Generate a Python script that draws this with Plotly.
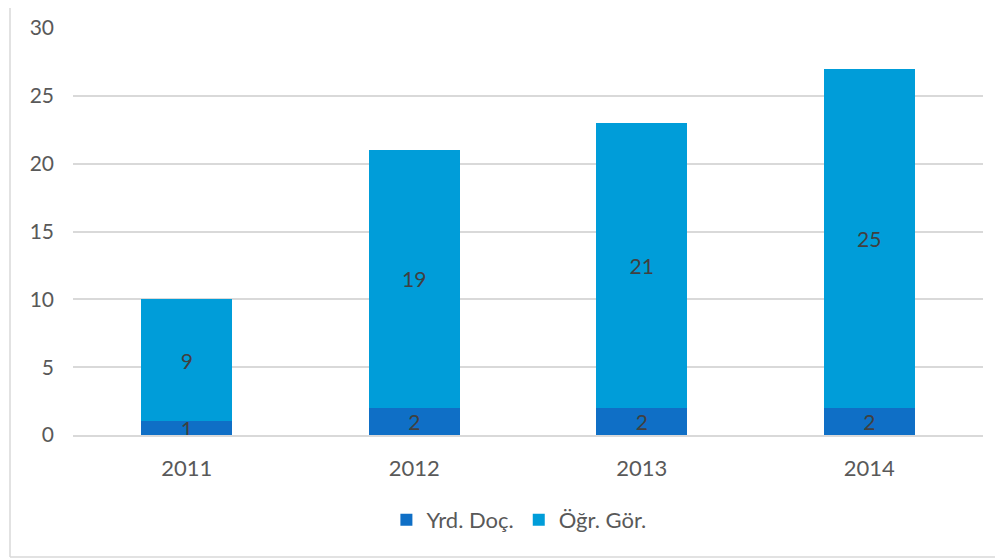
import plotly.graph_objects as go

years = ["2011", "2012", "2013", "2014"]
yrd_doc = [1, 2, 2, 2]
ogr_gor = [9, 19, 21, 25]
series_names = ["Yrd. Doç.", "Öğr. Gör."]
y_ticks = [0, 5, 10, 15, 20, 25, 30]

FONT = "Lato"
OFF = 8  # page body margin
W, H = 1003 - OFF, 560 - OFF
L, T = 73 - OFF, 28 - OFF
R = W - (983 - OFF)
B = H - (435 - OFF)
pw, ph = W - L - R, H - T - B

def px_x(x):
    return (x - OFF - L) / pw

def px_y(y):
    return (H - B - (y - OFF)) / ph

fig = go.Figure()
for vals, name, col in [(yrd_doc, series_names[0], "#0F6FC6"),
                        (ogr_gor, series_names[1], "#009DD9")]:
    fig.add_trace(go.Bar(
        x=years, y=vals, name=name, marker_color=col,
        marker_line_width=0, text=vals, textposition="inside",
        insidetextanchor="middle", constraintext="none", textangle=0,
        textfont=dict(color="#404040", size=21, family=FONT),
    ))

fig.update_layout(
    width=W, height=H,
    barmode="stack", bargap=0.6,
    paper_bgcolor="white", plot_bgcolor="white",
    margin=dict(l=L, r=R, t=T, b=B, autoexpand=False),
    font=dict(family=FONT, size=21, color="#595959"),
    showlegend=True,
    legend=dict(orientation="h", x=0.49, xanchor="center", y=px_y(520), yanchor="middle",
                font=dict(size=22, color="#595959"), traceorder="normal"),
    xaxis=dict(showgrid=False, showline=True, linecolor="#d9d9d9", linewidth=1.5,
               automargin=False,
               ticks="", ticklabelstandoff=13, tickfont=dict(size=22, color="#595959")),
    yaxis=dict(range=[0, 30], tickvals=y_ticks, showgrid=True, gridcolor="#d9d9d9",
               gridwidth=1.5, zeroline=False, showline=False, ticks="", automargin=False,
               ticklabelstandoff=18, tickfont=dict(size=21, color="#595959")),
    shapes=[
        dict(type="line", xref="paper", yref="paper",
             x0=px_x(10), x1=px_x(10), y0=px_y(557), y1=px_y(8),
             line=dict(color="#d9d9d9", width=1.5), layer="below"),
        dict(type="line", xref="paper", yref="paper",
             x0=px_x(10), x1=px_x(1003), y0=px_y(557), y1=px_y(557),
             line=dict(color="#d9d9d9", width=1.5), layer="below"),
    ],
)

fig.write_html("out.html")
